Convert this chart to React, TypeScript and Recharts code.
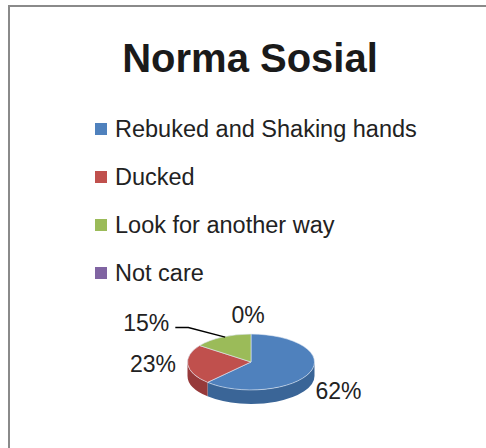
import React from "react";
import { PieChart, Pie, Cell, Legend } from "recharts";

const categories = [
  "Rebuked and Shaking hands",
  "Ducked",
  "Look for another way",
  "Not care",
];
const shares = [62, 23, 15, 0];
const colors = ["#4F81BD", "#C0504D", "#9BBB59", "#8064A2"];
const sideColors = ["#3A6597", "#96393A", "#76923C", "#5F4A7B"];

const data = categories.map((name, i) => ({ name, value: shares[i] }));

const CX = 251;
const CY = 362;
const RX = 63.5;
const TILT = 0.44;
const DEPTH = 14;
const FONT = "'Liberation Sans', Arial, sans-serif";

const RAD = Math.PI / 180;
const pt = (cx: number, cy: number, r: number, a: number, dy = 0) => [
  cx + r * Math.cos(a * RAD),
  cy - r * TILT * Math.sin(a * RAD) + dy,
];

// flat sector squashed into an ellipse, with a side wall on the front half
const Slice3D = (props: any) => {
  const { cx, cy, outerRadius: r, startAngle, endAngle, index } = props;
  const s = Math.max(startAngle, endAngle);
  const e = Math.min(startAngle, endAngle);
  if (s - e <= 0) return <g />;
  const ry = r * TILT;
  const [x1, y1] = pt(cx, cy, r, s);
  const [x2, y2] = pt(cx, cy, r, e);
  const large = s - e > 180 ? 1 : 0;
  const top = `M${cx},${cy} L${x1},${y1} A${r},${ry} 0 ${large} 1 ${x2},${y2} Z`;
  let side = null;
  const a = Math.min(s, 0);
  const b = Math.max(e, -180);
  if (a > b) {
    const [ax, ay] = pt(cx, cy, r, a);
    const [bx, by] = pt(cx, cy, r, b);
    const d = `M${ax},${ay} A${r},${ry} 0 0 1 ${bx},${by} L${bx},${by + DEPTH} A${r},${ry} 0 0 0 ${ax},${ay + DEPTH} Z`;
    side = <path d={d} fill={sideColors[index]} />;
  }
  return (
    <g>
      {side}
      <path d={top} fill={colors[index]} stroke="#dfe8f3" strokeWidth={0.6} />
    </g>
  );
};

const nudges = [
  [-4, 13],
  [0, -2],
  [-60, 0],
  [-3, -4],
];

const renderLabel = (props: any) => {
  const { cx, cy, outerRadius, midAngle, value, index } = props;
  const [bx, by] = pt(cx, cy, outerRadius * 1.55, midAngle);
  const x = bx + nudges[index][0];
  const y = by + nudges[index][1];
  const total = shares.reduce((t, v) => t + v, 0);
  const txt = `${Math.round((value / total) * 100)}%`;
  let leader = null;
  if (index === 2) {
    const [rx, ry] = pt(cx, cy, outerRadius, midAngle);
    leader = (
      <polyline
        points={`${x + 29},${y + 4} ${x + 42},${y + 4} ${rx + 3},${ry}`}
        fill="none"
        stroke="#000"
        strokeWidth={1.5}
      />
    );
  }
  return (
    <g key={`lbl-${index}`}>
      {leader}
      <text
        x={x}
        y={y}
        textAnchor="middle"
        dominantBaseline="central"
        fontFamily={FONT}
        fontSize={23}
        fill="#222"
      >
        {txt}
      </text>
    </g>
  );
};

const LegendList = (props: any) => {
  const items = [...(props.payload || [])].sort(
    (p: any, q: any) => categories.indexOf(p.value) - categories.indexOf(q.value)
  );
  return (
    <div>
      {items.map((p: any, i: number) => (
        <div
          key={i}
          style={{ display: "flex", alignItems: "center", height: 48 }}
        >
          <span
            style={{
              width: 12,
              height: 12,
              background: p.color,
              marginRight: 8,
              display: "inline-block",
            }}
          />
          <span
            style={{
              fontFamily: FONT,
              fontSize: 23.5,
              color: "#222",
              whiteSpace: "nowrap",
            }}
          >
            {p.value}
          </span>
        </div>
      ))}
    </div>
  );
};

export default function App() {
  return (
    <div
      style={{
        position: "absolute",
        left: 0,
        top: 0,
        width: 486,
        height: 448,
        background: "#fff",
        overflow: "hidden",
      }}
    >
      <div
        style={{
          position: "absolute",
          left: 8,
          top: 5,
          width: 490,
          height: 460,
          border: "2px solid #8a8a8a",
          boxSizing: "border-box",
        }}
      />
      <div
        style={{
          position: "absolute",
          left: 0,
          width: 500,
          top: 38,
          textAlign: "center",
          fontFamily: FONT,
          fontWeight: "bold",
          fontSize: 40,
          lineHeight: "40px",
          color: "#1a1a1a",
        }}
      >
        Norma Sosial
      </div>
      <div style={{ position: "absolute", left: 0, top: 0 }}>
        <PieChart
          width={486}
          height={448}
          margin={{ top: 0, right: 0, bottom: 0, left: 0 }}
        >
          <Pie
            data={data}
            dataKey="value"
            nameKey="name"
            cx={CX}
            cy={CY}
            outerRadius={RX}
            startAngle={90}
            endAngle={-270}
            shape={Slice3D}
            label={renderLabel}
            labelLine={false}
            isAnimationActive={false}
          >
            {data.map((d, i) => (
              <Cell key={d.name} fill={colors[i]} />
            ))}
          </Pie>
          <Legend
            layout="vertical"
            align="center"
            verticalAlign="middle"
            content={LegendList}
            wrapperStyle={{ position: "absolute", left: 95, top: 105, width: 360 }}
          />
        </PieChart>
      </div>
    </div>
  );
}
